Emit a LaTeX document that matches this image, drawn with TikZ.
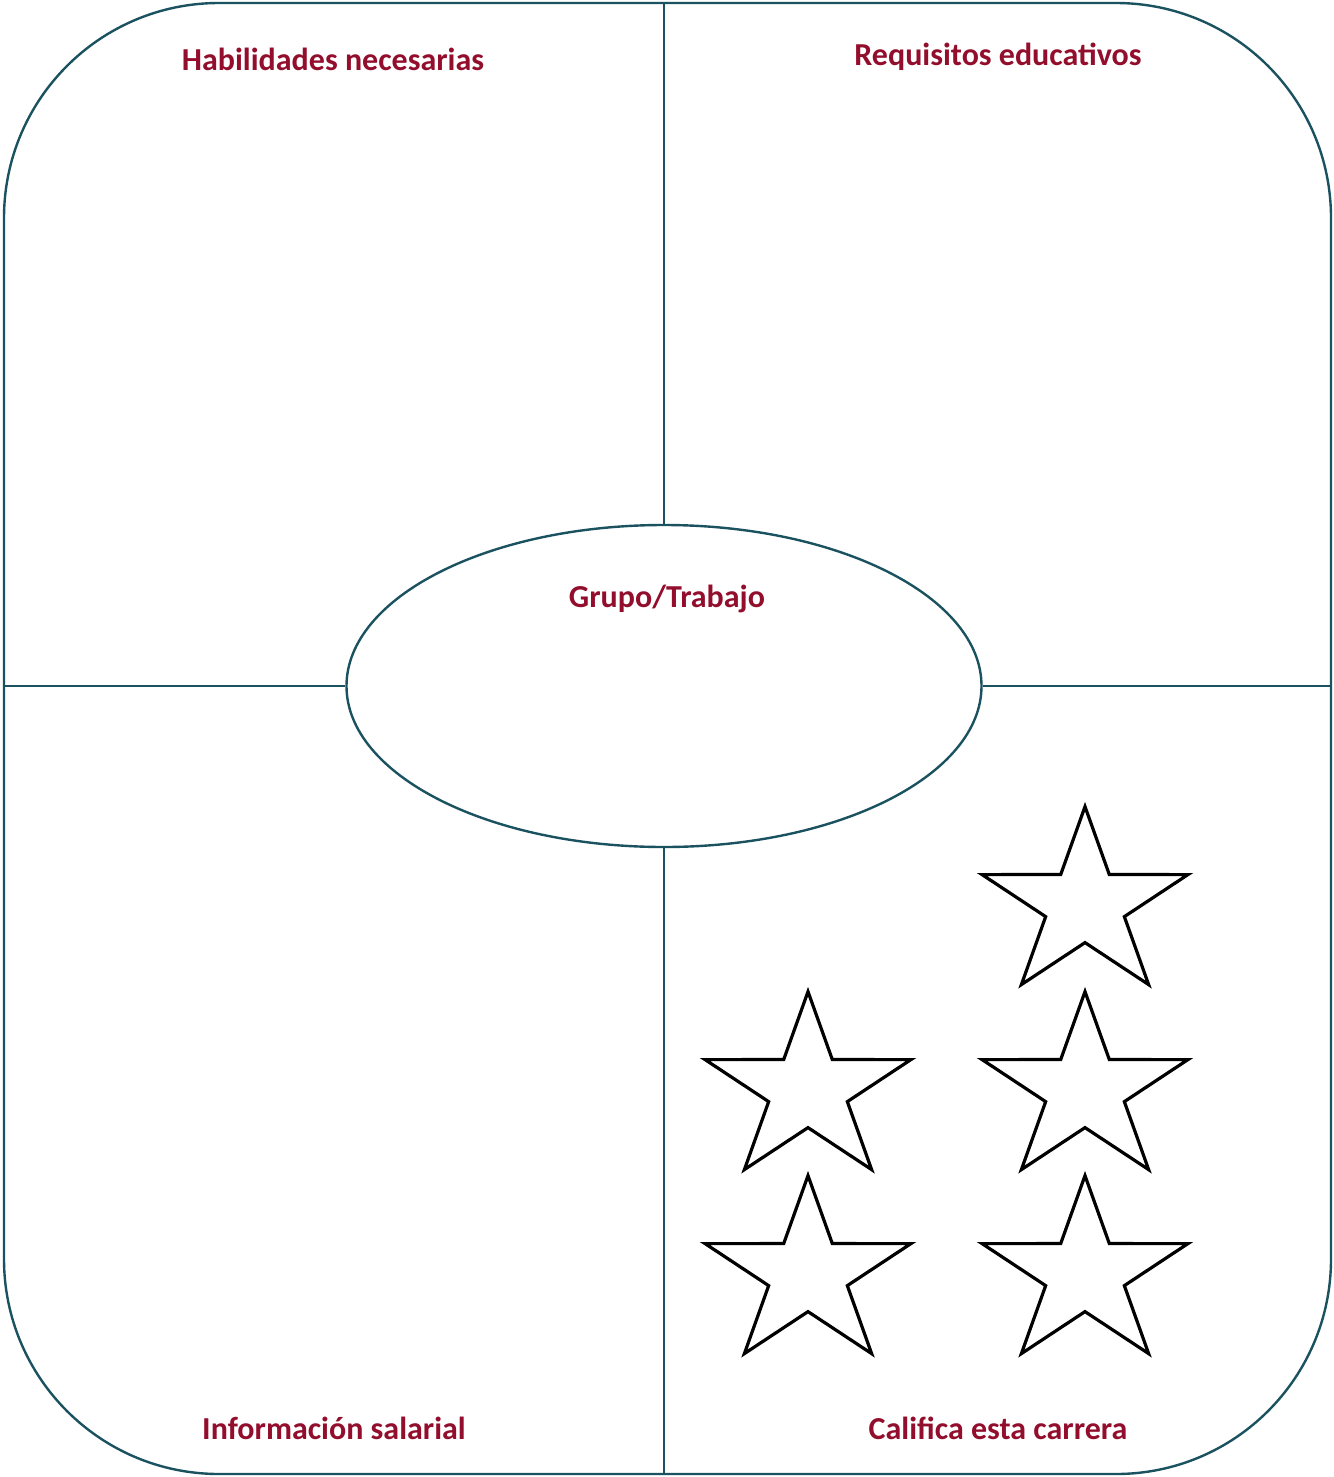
\documentclass[tikz,border=0pt]{standalone}
\usepackage{fontspec}
\setmainfont{Carlito}
\usetikzlibrary{shapes.geometric}
\definecolor{frame}{RGB}{27,82,96}
\definecolor{title}{RGB}{146,14,44}
\begin{document}
\begin{tikzpicture}[x=1pt,y=-1pt,
  frameline/.style={draw=frame,line width=2.4pt},
  heading/.style={text=title,font=\fontsize{32}{38}\selectfont\bfseries,inner sep=0pt,anchor=center},
  starshape/.style={draw=black,line width=3.2pt,line join=miter,fill=white}]
\useasboundingbox (0,0) rectangle (1333,1477);
% outer frame
\draw[frameline,rounded corners=215pt] (4,3) rectangle (1331,1474);
% center ellipse
\node[ellipse,frameline,minimum width=635pt,minimum height=322pt,inner sep=0pt] (center) at (664,686) {};
% frame anchor coordinates
\coordinate (topmid) at (664,3);
\coordinate (botmid) at (664,1474);
\coordinate (leftmid) at (4,686);
\coordinate (rightmid) at (1331,686);
\draw[frameline] (topmid) -- (center.north);
\draw[frameline] (center.south) -- (botmid);
\draw[frameline] (leftmid) -- (center.west);
\draw[frameline] (center.east) -- (rightmid);
% headings
\node[heading] (hab) at (333,59) {Habilidades necesarias};
\node[heading] (req) at (998,57) {Requisitos educativos};
\node[heading] (grp) at (667,599) {Grupo/Trabajo};
\node[heading] (inf) at (334,1428) {Información salarial};
\node[heading] (cal) at (998,1428) {Califica esta carrera};
% stars
\foreach \cx/\cy in {1085/905, 808/1090, 1085/1090, 808/1274, 1085/1274}{
  \begin{scope}[shift={(\cx,\cy)},xscale=1.10]
    \draw[starshape] (90:-98.4) -- (126:-37.6) -- (162:-98.4) -- (198:-37.6) -- (234:-98.4)
      -- (270:-37.6) -- (306:-98.4) -- (342:-37.6) -- (18:-98.4) -- (54:-37.6) -- cycle;
  \end{scope}
}
\end{tikzpicture}
\end{document}
